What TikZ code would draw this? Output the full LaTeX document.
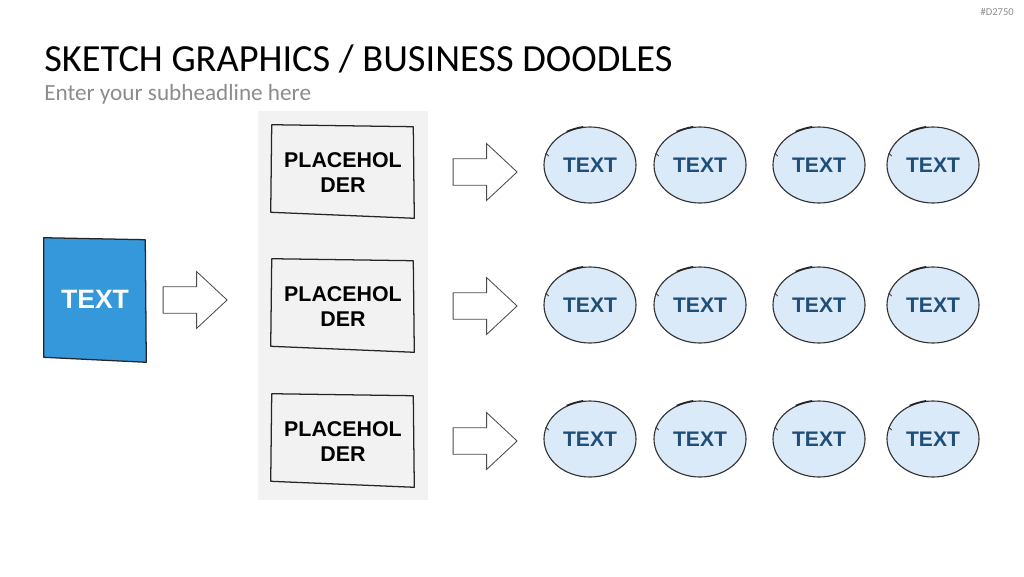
\documentclass[tikz,border=0pt]{standalone}
\usepackage{fontspec}
\setmainfont{Liberation Sans}
\newfontfamily\slidefont{Carlito}
\usetikzlibrary{positioning,shapes.geometric,shapes.arrows,backgrounds}

\definecolor{panelgray}{HTML}{F2F2F2}
\definecolor{srcblue}{RGB}{52,152,219}
\definecolor{blobfill}{RGB}{218,234,248}
\definecolor{blobtext}{RGB}{31,78,121}
\definecolor{subgray}{RGB}{140,140,140}

\begin{document}
\begin{tikzpicture}[
  x=0.25mm, y=-0.25mm,
  sketch/.style={line width=0.9pt, draw=black!85, line join=round},
  title/.style={anchor=base west, inner sep=0pt, font=\slidefont\fontsize{27.3}{32}\selectfont},
  subtitle/.style={anchor=base west, inner sep=0pt, text=subgray, font=\slidefont\fontsize{16.5}{20}\selectfont},
  srcbox/.style={minimum width=25.5mm, minimum height=30.5mm, inner sep=0pt,
    text=white, font=\fontsize{18.9}{22}\selectfont\bfseries},
  phbox/.style={minimum width=35.5mm, minimum height=23.5mm, inner sep=0pt, align=center,
    font=\fontsize{15.2}{17.8}\selectfont\bfseries},
  blob/.style={ellipse, draw=black!80, line width=0.8pt, fill=blobfill, text=blobtext,
    minimum width=23mm, minimum height=19mm, inner sep=0pt, font=\fontsize{15}{18}\selectfont\bfseries},
  blockarrow/.style={single arrow, draw=black!70, line width=0.6pt, fill=white,
    minimum height=16mm, inner sep=3.2mm, single arrow head extend=3.8mm,
    single arrow tip angle=86}
]
\begin{scope}[on background layer]
  \fill[white] (0,0) rectangle (1024,576);
\end{scope}
\useasboundingbox (0,0) rectangle (1024,576);

% headline
\node[title] (head) at (44,71) {SKETCH GRAPHICS / BUSINESS DOODLES};
\node[subtitle] (subhead) at (44,100) {Enter your subheadline here};
\node[anchor=base east, inner sep=0pt, text=subgray, font=\slidefont\fontsize{7.5}{9}\selectfont] (tag) at (1014,16) {\#D2750};

% grey panel behind the placeholders
\fill[panelgray] (258,111) rectangle (428,500);

% source box
\node[srcbox] (src) at (95,299) {TEXT};
\begin{scope}[on background layer]
  \filldraw[sketch, fill=srcblue] (src.north west) -- ([shift={(-1,2)}]src.north east)
    -- ([shift={(0,2)}]src.south east) -- ([shift={(0,-3)}]src.south west) -- cycle;
\end{scope}
\node[blockarrow] (a0) at (188,300) {};

% placeholders, arrows and text blobs
\foreach \r/\y in {1/171,2/305,3/440} {
  \node[phbox] (ph\r) at (343,\y+2) {PLACEHOL\\DER};
  \draw[sketch] ([shift={(0,-1)}]ph\r.north west) -- ([shift={(-1,1)}]ph\r.north east)
    -- ([shift={(0,-2)}]ph\r.south east) -- ([shift={(-1,-8)}]ph\r.south west) -- cycle;
  \node[blockarrow] (a\r) at (478,\y+1) {};
}
\foreach \r/\y in {1/165,2/305,3/439} {
  \foreach \c/\x in {1/590,2/700,3/819,4/933} {
    \node[blob] (t\r\c) at (\x,\y) {TEXT};
    \draw[sketch, line width=1.2pt] (t\r\c.125) to[bend left=6] (t\r\c.100);
    \draw[sketch, line width=0.5pt] (t\r\c.165) -- ++(3,3);
  }
}
\end{tikzpicture}
\end{document}
